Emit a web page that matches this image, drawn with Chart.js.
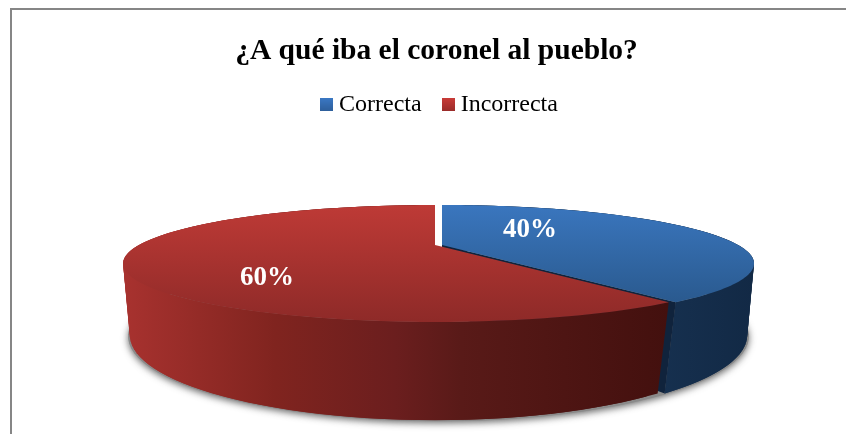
<!DOCTYPE html>
<html lang="es">
<head>
<meta charset="utf-8">
<title>¿A qué iba el coronel al pueblo?</title>
<script src="https://cdn.jsdelivr.net/npm/chart.js@4/dist/chart.umd.js"></script>
<style>
  html, body { margin: 0; padding: 0; background: #fff; overflow: hidden; }
  #wrap { position: absolute; left: 0; top: 0; width: 846px; height: 434px; overflow: hidden; }
  #frame { position: absolute; left: 10px; top: 8px; width: 846px; height: 434px;
           border-left: 2px solid #868686; border-top: 2px solid #868686; }
  canvas { position: absolute; left: 0; top: 0; }
</style>
</head>
<body>
<div id="wrap">
  <div id="frame"></div>
  <canvas id="graph1" width="846" height="434"></canvas>
</div>
<script>
const titleText = '¿A qué iba el coronel al pueblo?';
const categories = ['Correcta', 'Incorrecta'];
const percentages = [40, 60];

const serif = "'Liberation Serif', 'Times New Roman', serif";

// top disc and bottom disc of the tilted pie, as perspective mappings of the unit circle
const topDisc = { x0: 438.5, y0: 245, kx: 296, ky: 52.65, c: 0.316 };
const bottomDisc = { x0: 438.5, y0: 311.5, kx: 293, ky: 78.3, c: 0.28 };

// per slice styling, same order as categories
const sliceShift = [{ x: 3.5, y: 0 }, { x: -3.5, y: 0 }];
const labelSpots = [{ x: 530, y: 230.5 }, { x: 267, y: 278.5 }];
const faceStops = [['#3a76be', '#2a5a8f'], ['#be3a36', '#8e2a28']];
const faceRange = [[205, 301], [205, 322]];
const wallStops = [
  [[0, '#16304f'], [1, '#122945']],
  [[0, '#a8322f'], [0.28, '#80241f'], [0.5, '#6b1e1e'], [0.62, '#591a18'], [1, '#43100e']]
];
const wallRange = [[660, 754], [123, 668]];
const swatchStops = [['#3b78c4', '#2e5f9b'], ['#c93b38', '#9a2c2a']];

function project(disc, shift, ang) {
  // ang is the library's arc angle, -PI/2 being twelve o'clock
  const u = Math.cos(ang), v = -Math.sin(ang);
  const w = 1 + disc.c * v;
  return { x: disc.x0 + shift.x + disc.kx * u / w, y: disc.y0 + shift.y - disc.ky * v / w };
}

function rimPath(ctx, disc, shift, from, to) {
  const steps = 120;
  for (let i = 0; i <= steps; i++) {
    const p = project(disc, shift, from + (to - from) * i / steps);
    ctx.lineTo(p.x, p.y);
  }
}

// side wall as overlapping quads, a single strip would cancel itself where it folds over
function drawWall(ctx, shift, from, to) {
  const steps = 90;
  for (let i = 0; i < steps; i++) {
    const a = from + (to - from) * i / steps;
    const b = Math.min(to, from + (to - from) * (i + 2) / steps);
    const p = [project(topDisc, shift, a), project(topDisc, shift, b),
               project(bottomDisc, shift, b), project(bottomDisc, shift, a)];
    ctx.beginPath();
    ctx.moveTo(p[0].x, p[0].y);
    p.slice(1).forEach(q => ctx.lineTo(q.x, q.y));
    ctx.closePath();
    ctx.fill();
  }
}

function makeSwatch(stops) {
  const c = document.createElement('canvas');
  c.width = 13; c.height = 13;
  const g = c.getContext('2d');
  const grad = g.createLinearGradient(0, 0, 0, 13);
  grad.addColorStop(0, stops[0]);
  grad.addColorStop(1, stops[1]);
  g.fillStyle = grad;
  g.fillRect(0, 0, 13, 13);
  return c;
}

const tiltedPie = {
  id: 'tiltedPie',
  afterLayout(chart) {
    // title sits a little left of the legend's centre
    chart.titleBlock.left -= 11;
  },
  beforeDatasetsDraw(chart) {
    const ctx = chart.ctx;
    const arcs = chart.getDatasetMeta(0).data;

    // soft shadow under the base
    ctx.save();
    ctx.shadowColor = 'rgba(60,60,60,0.75)';
    ctx.shadowBlur = 7;
    ctx.shadowOffsetY = 2;
    ctx.fillStyle = '#8a8a8a';
    ctx.beginPath();
    rimPath(ctx, { ...bottomDisc, kx: bottomDisc.kx + 5 }, { x: 0, y: 1 }, 0, Math.PI * 2);
    ctx.closePath();
    ctx.fill();
    ctx.restore();

    arcs.forEach((arc, i) => {
      const shift = sliceShift[i];
      const a0 = arc.startAngle, a1 = arc.endAngle;

      const wall = ctx.createLinearGradient(wallRange[i][0], 0, wallRange[i][1], 0);
      wallStops[i].forEach(s => wall.addColorStop(s[0], s[1]));
      ctx.fillStyle = wall;
      drawWall(ctx, shift, a0, a1);

      // cut face of the blue slice shows next to the red top
      if (i === 0) {
        const apexTop = { x: topDisc.x0 + shift.x, y: topDisc.y0 + shift.y };
        const apexLow = { x: bottomDisc.x0 + shift.x, y: bottomDisc.y0 + shift.y };
        const edgeTop = project(topDisc, shift, a1);
        const edgeLow = project(bottomDisc, shift, a1);
        ctx.fillStyle = '#10233c';
        ctx.beginPath();
        ctx.moveTo(apexTop.x, apexTop.y);
        ctx.lineTo(edgeTop.x, edgeTop.y);
        ctx.lineTo(edgeLow.x, edgeLow.y);
        ctx.lineTo(apexLow.x, apexLow.y);
        ctx.closePath();
        ctx.fill();
      }

      // top face
      const face = ctx.createLinearGradient(0, faceRange[i][0], 0, faceRange[i][1]);
      face.addColorStop(0, faceStops[i][0]);
      face.addColorStop(1, faceStops[i][1]);
      ctx.fillStyle = face;
      ctx.beginPath();
      ctx.moveTo(topDisc.x0 + shift.x, topDisc.y0 + shift.y);
      rimPath(ctx, topDisc, shift, a0, a1);
      ctx.closePath();
      ctx.fill();
    });

    // percentage labels
    ctx.save();
    ctx.font = 'bold 27px ' + serif;
    ctx.fillStyle = '#ffffff';
    ctx.textAlign = 'center';
    ctx.textBaseline = 'middle';
    percentages.forEach((v, i) => ctx.fillText(v + '%', labelSpots[i].x, labelSpots[i].y));
    ctx.restore();

    return false;
  }
};

const ctx = document.getElementById('graph1').getContext('2d');

const data = {
  labels: categories,
  datasets: [{
    data: percentages,
    backgroundColor: ['#3a76be', '#be3a36'],
    pointStyle: swatchStops.map(makeSwatch),
    borderWidth: 0
  }]
};

const options = {
  responsive: false,
  animation: false,
  layout: { padding: { top: 37, left: 128, right: 90, bottom: 14 } },
  plugins: {
    title: {
      display: true,
      text: titleText,
      color: '#000000',
      font: { family: serif, size: 29.5, weight: 'bold', lineHeight: 1 },
      padding: { top: 0, bottom: 0 }
    },
    legend: {
      display: true,
      position: 'top',
      labels: {
        color: '#000000',
        font: { family: serif, size: 24 },
        usePointStyle: true,
        boxWidth: 1,
        padding: 26,
        generateLabels(chart) {
          return categories.map((name, i) => ({
            text: name,
            index: i,
            hidden: false,
            fontColor: '#000000',
            lineWidth: 0,
            pointStyle: chart.data.datasets[0].pointStyle[i]
          }));
        }
      }
    },
    tooltip: { enabled: false }
  }
};

new Chart(ctx, { type: 'pie', data: data, options: options, plugins: [tiltedPie] });
</script>
</body>
</html>
